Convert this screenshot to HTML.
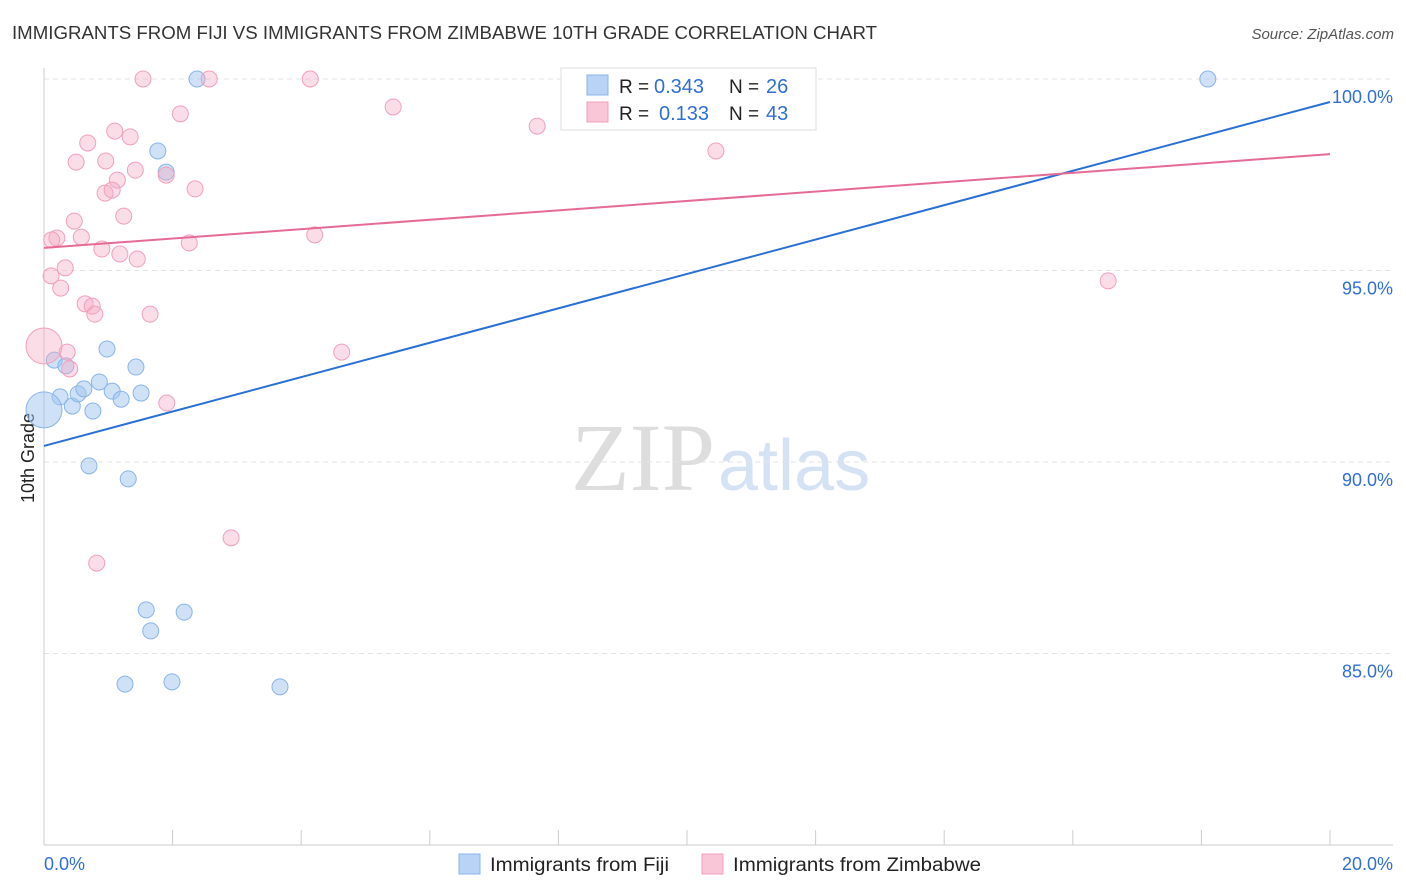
<!DOCTYPE html>
<html><head><meta charset="utf-8"><style>
body{margin:0;background:#fff;font-family:"Liberation Sans",sans-serif;}
svg{display:block}
</style></head><body>
<svg id="chart" width="1406" height="892" viewBox="0 0 1406 892">
<text x="12" y="39" font-size="18" fill="#333" textLength="865" lengthAdjust="spacingAndGlyphs">IMMIGRANTS FROM FIJI VS IMMIGRANTS FROM ZIMBABWE 10TH GRADE CORRELATION CHART</text>
<text x="1394" y="39" font-size="15" fill="#555" font-style="italic" text-anchor="end">Source: ZipAtlas.com</text>
<text x="715" y="490" font-size="96" fill="#ddd" text-anchor="end" font-family="Liberation Serif,serif">ZIP</text>
<text x="718" y="490" font-size="72" fill="#d4e2f4">atlas</text>
<text transform="translate(34,458) rotate(-90)" font-size="18" fill="#222" text-anchor="middle">10th Grade</text>
<g id="grid"></g><g id="pts"></g><g id="lines"></g>
<g>
<rect x="561" y="68" width="255" height="62" fill="#fff" stroke="#ddd"/>
<rect x="587" y="75" width="21" height="20" fill="#b8d3f5" stroke="#8ab4e8"/>
<rect x="587" y="102" width="21" height="20" fill="#f8c6d6" stroke="#f0a0bb"/>
<text x="619" y="93" font-size="19" fill="#222">R =</text>
<text x="654" y="93" font-size="20" fill="#2f6fd6">0.343</text>
<text x="729" y="93" font-size="19" fill="#222">N =</text>
<text x="766" y="93" font-size="20" fill="#2f6fd6">26</text>
<text x="619" y="120" font-size="19" fill="#222">R =</text>
<text x="659" y="120" font-size="20" fill="#2f6fd6">0.133</text>
<text x="729" y="120" font-size="19" fill="#222">N =</text>
<text x="766" y="120" font-size="20" fill="#2f6fd6">43</text>
</g>
<g>
<rect x="459" y="854" width="21" height="20" fill="#b8d3f5" stroke="#8ab4e8"/>
<text x="490" y="871" font-size="19" fill="#222" textLength="179" lengthAdjust="spacingAndGlyphs">Immigrants from Fiji</text>
<rect x="702" y="854" width="21" height="20" fill="#f8c6d6" stroke="#f0a0bb"/>
<text x="733" y="871" font-size="19" fill="#222" textLength="248" lengthAdjust="spacingAndGlyphs">Immigrants from Zimbabwe</text>
</g>
<text x="44" y="870" font-size="18" fill="#2f6fd6">0.0%</text>
<text x="1393" y="870" font-size="18" fill="#2f6fd6" text-anchor="end">20.0%</text>
</svg>
<script>
const yTicks=[100,95,90,85];
const xTicks=[0,2,4,6,8,10,12,14,16,18,20];
const fijiX=[2.38,18.10,1.77,1.90,0.16,0.34,0.98,1.43,0.25,0.44,0.53,0.62,0.86,0.76,1.06,1.20,1.51,0,0.70,1.31,1.59,2.18,1.66,1.26,1.99,3.67];
const fijiY=[100,100,98.12,97.57,92.66,92.51,92.95,92.48,91.70,91.46,91.78,91.91,92.09,91.33,91.85,91.64,91.80,91.36,89.90,89.56,86.14,86.08,85.59,84.20,84.26,84.13];
const zimX=[1.54,2.57,4.14,2.12,5.43,7.67,10.45,0.68,1.10,1.34,0.50,0.96,1.14,1.42,1.90,0.95,1.06,2.35,1.24,0.47,0.20,0.12,0.58,0.90,1.18,1.45,2.26,4.21,0.33,0.11,0.26,0.64,0.75,0.79,1.65,0,0.36,0.40,4.63,1.91,2.91,0.82,16.55];
const zimY=[100,100,100,99.09,99.27,98.77,98.12,98.33,98.64,98.49,97.83,97.86,97.36,97.62,97.49,97.02,97.10,97.13,96.42,96.29,95.85,95.80,95.87,95.56,95.43,95.30,95.72,95.93,95.07,94.86,94.54,94.13,94.07,93.86,93.86,93.03,92.87,92.43,92.87,91.54,88.02,87.36,94.73];
const fijiTrend=[90.42,99.40];
const zimTrend=[95.59,98.04];
const X=v=>44+v/20*1286, Y=v=>79+(100-v)*38.3;
const NS='http://www.w3.org/2000/svg';
function mk(p,t,a){const e=document.createElementNS(NS,t);for(const k in a)e.setAttribute(k,a[k]);p.appendChild(e);return e;}
const grid=document.getElementById('grid');
yTicks.forEach(t=>{
 const l=mk(grid,'line',{x1:44,x2:1393,y1:Y(t),y2:Y(t),stroke:'#e3e3e3','stroke-dasharray':'5,4'});
 
 
 const tx=mk(grid,'text',{x:1393,y:Y(t)+24,'font-size':18,fill:'#2f6fd6','text-anchor':'end'});
 tx.textContent=t.toFixed(1)+'%';
 
 
});
const ax=mk(grid,'line',{x1:44,x2:44,y1:68,y2:845,stroke:'#ccc'});


const bx=mk(grid,'line',{x1:44,x2:1393,y1:845,y2:845,stroke:'#ccc'});


xTicks.forEach(t=>{
 const l=mk(grid,'line',{x1:X(t),x2:X(t),y1:830,y2:845,stroke:'#ccc'});
 
 
});
const pts=document.getElementById('pts');
fijiX.forEach((x,i)=>{
 const big=(x===0);
 const c=mk(pts,'circle',{cx:X(x),cy:Y(fijiY[i]),r:big?18:8,fill:'rgba(160,195,240,0.5)',stroke:'#8ab4e8','stroke-width':1});
 
 
});
zimX.forEach((x,i)=>{
 const big=(x===0);
 const c=mk(pts,'circle',{cx:X(x),cy:Y(zimY[i]),r:big?18:8,fill:'rgba(245,170,195,0.4)',stroke:'#f0a0bb','stroke-width':1});
 
 
});
const lines=document.getElementById('lines');
const l1=mk(lines,'line',{x1:X(0),y1:Y(fijiTrend[0]),x2:X(20),y2:Y(fijiTrend[1]),stroke:'#2a6fd4','stroke-width':2});


const l2=mk(lines,'line',{x1:X(0),y1:Y(zimTrend[0]),x2:X(20),y2:Y(zimTrend[1]),stroke:'#e66a96','stroke-width':2});


</script>
</body></html>
